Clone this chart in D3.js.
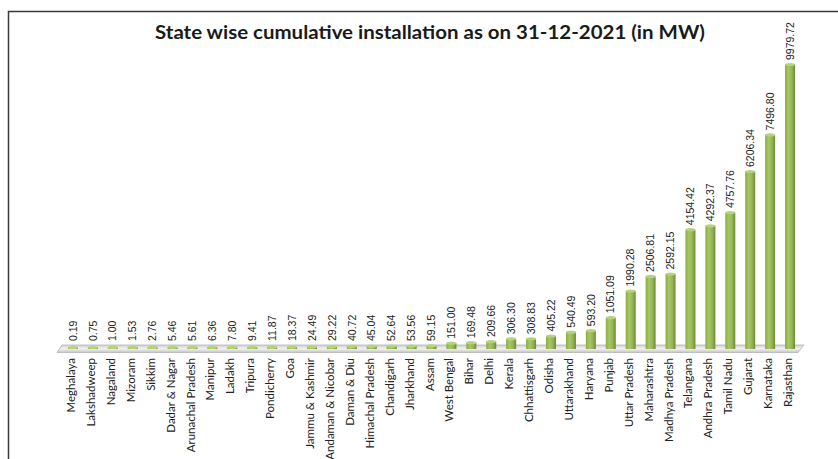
<!DOCTYPE html>
<html>
<head>
<meta charset="utf-8">
<script src="https://cdn.jsdelivr.net/npm/d3@7/dist/d3.min.js"></script>
<style>
  body { margin: 0; background: #fff; }
  svg { display: block; }
</style>
</head>
<body>
<script>
// chart data
var states = ["Meghalaya", "Lakshadweep", "Nagaland", "Mizoram", "Sikkim", "Dadar & Nagar",
  "Arunachal Pradesh", "Manipur", "Ladakh", "Tripura", "Pondicherry", "Goa", "Jammu & Kashmir",
  "Andaman & Nicobar", "Daman & Diu", "Himachal Pradesh", "Chandigarh", "Jharkhand", "Assam",
  "West Bengal", "Bihar", "Delhi", "Kerala", "Chhattisgarh", "Odisha", "Uttarakhand", "Haryana",
  "Punjab", "Uttar Pradesh", "Maharashtra", "Madhya Pradesh", "Telangana", "Andhra Pradesh",
  "Tamil Nadu", "Gujarat", "Karnataka", "Rajasthan"];
var capacity = [0.19, 0.75, 1.00, 1.53, 2.76, 5.46, 5.61, 6.36, 7.80, 9.41, 11.87, 18.37, 24.49,
  29.22, 40.72, 45.04, 52.64, 53.56, 59.15, 151.00, 169.48, 209.66, 306.30, 308.83, 405.22,
  540.49, 593.20, 1051.09, 1990.28, 2506.81, 2592.15, 4154.42, 4292.37, 4757.76, 6206.34,
  7496.80, 9979.72];
var title = "State wise cumulative installation as on 31-12-2021 (in MW)";

var W = 838, H = 459;
var baseY = 349;

var svg = d3.select("body").append("svg")
    .attr("width", W)
    .attr("height", H);

var defs = svg.append("defs");

// bar gradient (cylinder-ish look)
var g1 = defs.append("linearGradient").attr("id", "barGrad")
    .attr("x1", "0%").attr("x2", "100%").attr("y1", "0%").attr("y2", "0%");
g1.append("stop").attr("offset", "0%").attr("stop-color", "#8aab45");
g1.append("stop").attr("offset", "35%").attr("stop-color", "#a6c765");
g1.append("stop").attr("offset", "70%").attr("stop-color", "#93b453");
g1.append("stop").attr("offset", "100%").attr("stop-color", "#6a8a2f");

var g2 = defs.append("linearGradient").attr("id", "floorGrad")
    .attr("x1", "0%").attr("x2", "0%").attr("y1", "0%").attr("y2", "100%");
g2.append("stop").attr("offset", "0%").attr("stop-color", "#cfcfcf");
g2.append("stop").attr("offset", "50%").attr("stop-color", "#f2f2f2");
g2.append("stop").attr("offset", "100%").attr("stop-color", "#c4c4c4");

// frame
svg.append("path")
    .attr("d", "M8.5," + H + " V11.5 H" + W)
    .attr("fill", "none")
    .attr("stroke", "#3a3a3a")
    .attr("stroke-width", 1.5);

svg.append("text")
    .attr("x", 430)
    .attr("y", 39)
    .attr("text-anchor", "middle")
    .attr("textLength", 550)
    .attr("lengthAdjust", "spacingAndGlyphs")
    .style("font-family", "Lato, 'Liberation Sans', sans-serif")
    .style("font-weight", "bold")
    .style("font-size", "18px")
    .attr("fill", "#1a1a1a")
    .text(title);

// scales
var x = d3.scaleBand()
    .domain(states)
    .range([63, 800]);

var y = d3.scaleLinear()
    .domain([0, 9979.72])
    .range([baseY, 66]);

// floor
svg.append("path")
    .attr("d", "M62,345 L804,345 L798,352.5 L57,352.5 Z")
    .attr("fill", "url(#floorGrad)")
    .attr("stroke", "#b5b5b5")
    .attr("stroke-width", 0.8);

var bw = 10;
var bars = svg.append("g").selectAll("g")
    .data(states)
    .enter().append("g");

bars.append("rect")
    .attr("x", function(d) { return x(d) + x.bandwidth() / 2 - bw / 2; })
    .attr("y", function(d, i) { return y(capacity[i]) - 1.5; })
    .attr("width", bw)
    .attr("height", function(d, i) { return Math.max(1.5, baseY - y(capacity[i]) + 1.5); })
    .attr("fill", "url(#barGrad)");

bars.append("ellipse")
    .attr("cx", function(d) { return x(d) + x.bandwidth() / 2; })
    .attr("cy", function(d, i) { return y(capacity[i]) - 1.5; })
    .attr("rx", bw / 2)
    .attr("ry", 1.6)
    .attr("fill", "#b7d27c");

// value labels
svg.append("g").selectAll("text")
    .data(states)
    .enter().append("text")
    .attr("transform", function(d, i) {
      return "translate(" + (x(d) + x.bandwidth() / 2) + "," + (Math.min(y(capacity[i]) - 6, 341)) + ") rotate(-90)";
    })
    .attr("dy", "0.35em")
    .attr("text-anchor", "start")
    .style("font-family", "'Liberation Sans', Arial, sans-serif")
    .style("font-size", "10.5px")
    .attr("fill", "#222")
    .text(function(d, i) { return capacity[i].toFixed(2); });

// category labels
svg.append("g").selectAll("text")
    .data(states)
    .enter().append("text")
    .attr("transform", function(d) {
      return "translate(" + (x(d) + x.bandwidth() / 2 - 2) + ",358) rotate(-90)";
    })
    .attr("dy", "0.35em")
    .attr("text-anchor", "end")
    .style("font-family", "Lato, 'Liberation Sans', sans-serif")
    .style("font-size", "11.5px")
    .attr("fill", "#222")
    .text(function(d) { return d; });
</script>
</body>
</html>
